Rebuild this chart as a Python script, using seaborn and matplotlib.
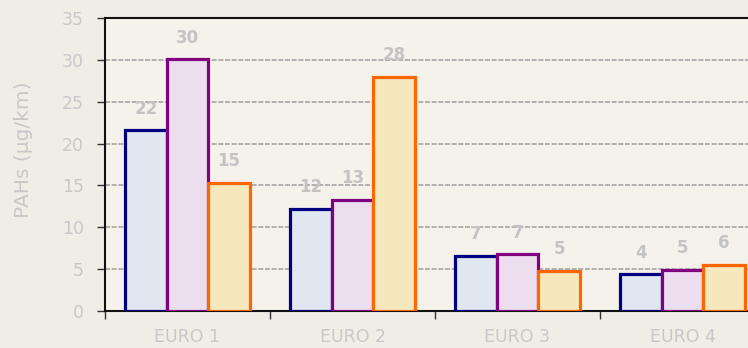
import matplotlib
matplotlib.use("Agg")
import matplotlib.pyplot as plt
import seaborn as sns
import pandas as pd
from matplotlib.ticker import FixedLocator, MultipleLocator

# Emission standards and the three measured series per standard
categories = ["EURO 1", "EURO 2", "EURO 3", "EURO 4"]
series_names = ["A", "B", "C"]
series_a = [21.6, 12.2, 6.6, 4.4]
series_b = [30.1, 13.3, 6.8, 4.9]
series_c = [15.3, 28.0, 4.8, 5.5]
y_label = "PAHs (µg/km)"

fills = ["#dfe7f0", "#ecdeef", "#f5e8bc"]
edges = ["#000080", "#800080", "#ff6600"]

rows = []
for name, vals in zip(series_names, [series_a, series_b, series_c]):
    for cat, v in zip(categories, vals):
        rows.append({"category": cat, "series": name, "value": v})
df = pd.DataFrame(rows)

sns.set_theme(style="white")
plt.rcParams["font.family"] = ["DejaVu Sans"]

fig = plt.figure(figsize=(7.48, 3.48), dpi=100, facecolor="#f0ede6")
ax = fig.add_axes([105 / 748, 1 - 311 / 348, 660 / 748, 293 / 348])
ax.set_facecolor("#f4f2eb")

sns.barplot(data=df, x="category", y="value", hue="series",
            order=categories, hue_order=series_names,
            palette=fills, width=0.755, legend=False, ax=ax,
            saturation=1, errorbar=None)

for cont, ec in zip(ax.containers, edges):
    for patch in cont:
        patch.set_edgecolor(ec)
        patch.set_linewidth(2.3)
        patch.set_zorder(3)
    ax.bar_label(cont, fmt="{:.0f}", padding=9, color="#c3c3c3",
                 fontsize=12, fontweight="bold", zorder=4)

ax.set_ylim(0, 35)
ax.set_xlim(-0.5, 3.5)
ax.yaxis.set_major_locator(MultipleLocator(5))
ax.grid(axis="y", color="#a6a6a6", linestyle=(0, (3, 1)), linewidth=1.2, zorder=0)
ax.set_axisbelow(True)

ax.set_xlabel("")
ax.set_ylabel(y_label, fontsize=14.5, color="#c8c8c8")
ax.yaxis.set_label_coords(-0.109, 0.55)
ax.tick_params(axis="y", colors="#c8c8c8", labelsize=12.5, length=6, width=1,
               direction="out", left=True, pad=9)
ax.tick_params(axis="y", which="major", color="#333333")
ax.tick_params(axis="x", which="major", length=0, labelsize=12.5,
               labelcolor="#c8c8c8", pad=12)
ax.xaxis.set_minor_locator(FixedLocator([-0.5, 0.5, 1.5, 2.5, 3.5]))
ax.tick_params(axis="x", which="minor", length=6, width=1, color="#333333",
               direction="out", bottom=True)

for side in ["left", "bottom", "top"]:
    ax.spines[side].set_visible(True)
    ax.spines[side].set_color("#111111")
    ax.spines[side].set_linewidth(1.5)
ax.spines["right"].set_visible(False)

fig.savefig("out.png", dpi=100, facecolor=fig.get_facecolor())
